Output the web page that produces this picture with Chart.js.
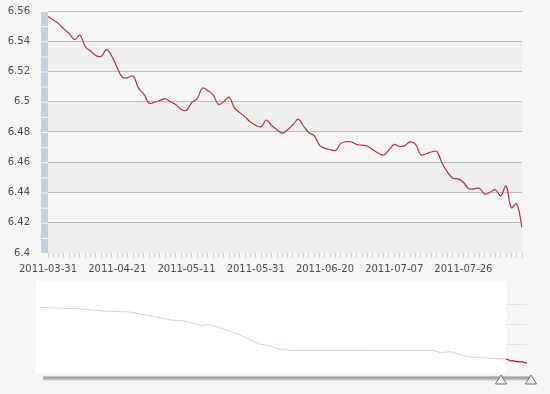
<!DOCTYPE html>
<html>
<head>
<meta charset="utf-8">
<script src="https://cdn.jsdelivr.net/npm/chart.js@4.4.1/dist/chart.umd.min.js"></script>
<style>
html, body { margin: 0; padding: 0; background: #f6f6f6; }
#wrap { position: relative; width: 550px; height: 394px; overflow: hidden; }
#mainChart { position: absolute; left: 0; top: 0; }
#navChart { position: absolute; left: 0; top: 275px; }
</style>
</head>
<body>
<div id="wrap">
<canvas id="mainChart" width="550" height="280"></canvas>
<canvas id="navChart" width="550" height="119"></canvas>
</div>
<script>
// daily rate, 2011-03-31 .. 2011-08-10
const mainDates = [
    "2011-03-31", "2011-04-01", "2011-04-06", "2011-04-07", "2011-04-08", "2011-04-11", "2011-04-12", "2011-04-13", "2011-04-14", "2011-04-15",
    "2011-04-18", "2011-04-19", "2011-04-20", "2011-04-21", "2011-04-22", "2011-04-25", "2011-04-26", "2011-04-27", "2011-04-28", "2011-04-29",
    "2011-05-03", "2011-05-04", "2011-05-05", "2011-05-06", "2011-05-09", "2011-05-10", "2011-05-11", "2011-05-12", "2011-05-13", "2011-05-16",
    "2011-05-17", "2011-05-18", "2011-05-19", "2011-05-20", "2011-05-23", "2011-05-24", "2011-05-25", "2011-05-26", "2011-05-27", "2011-05-31",
    "2011-06-01", "2011-06-02", "2011-06-03", "2011-06-07", "2011-06-08", "2011-06-09", "2011-06-10", "2011-06-13", "2011-06-14", "2011-06-15",
    "2011-06-16", "2011-06-17", "2011-06-20", "2011-06-21", "2011-06-22", "2011-06-23", "2011-06-24", "2011-06-27", "2011-06-28", "2011-06-29",
    "2011-06-30", "2011-07-01", "2011-07-04", "2011-07-05", "2011-07-06", "2011-07-07", "2011-07-08", "2011-07-11", "2011-07-12", "2011-07-13",
    "2011-07-14", "2011-07-15", "2011-07-18", "2011-07-19", "2011-07-20", "2011-07-21", "2011-07-22", "2011-07-25", "2011-07-26", "2011-07-27",
    "2011-07-28", "2011-07-29", "2011-08-01", "2011-08-02", "2011-08-03", "2011-08-04", "2011-08-05", "2011-08-08", "2011-08-09", "2011-08-10"
];
const mainValues = [
    6.5564, 6.554, 6.5515, 6.548, 6.545, 6.541, 6.544, 6.5365, 6.5335, 6.5305,
    6.530, 6.5345, 6.530, 6.5225, 6.516, 6.516, 6.517, 6.509, 6.505, 6.499,
    6.4997, 6.5008, 6.502, 6.500, 6.498, 6.495, 6.4943, 6.4995, 6.502, 6.509,
    6.5073, 6.5045, 6.4983, 6.500, 6.503, 6.496, 6.4928, 6.490, 6.4866, 6.4845,
    6.4834, 6.4878, 6.4843, 6.4815, 6.4792, 6.4815, 6.4848, 6.4885, 6.4838, 6.4795,
    6.4775, 6.4712, 6.4692, 6.4684, 6.4678, 6.4725, 6.4736, 6.4734, 6.4717, 6.4713,
    6.4706, 6.4682, 6.4661, 6.4647, 6.468, 6.4718, 6.4704, 6.471, 6.4735, 6.4718,
    6.465, 6.4656, 6.4668, 6.4671, 6.4594, 6.4535, 6.4495, 6.449, 6.4468, 6.4425,
    6.4424, 6.4428, 6.439, 6.4402, 6.4418, 6.4378, 6.4443, 6.430, 6.4325, 6.417
];
const yTicks = [6.4, 6.42, 6.44, 6.46, 6.48, 6.5, 6.52, 6.54, 6.56];
const labelEvery = 13;

// overview (scrollbar) history, position along the overview strip
const navPos = [0, 40, 60, 90, 110, 130, 143, 163, 168, 180, 193, 207,
    220, 227, 240, 257, 330, 393, 400, 412, 420, 430, 450, 466];
const navValues = [8.10, 8.06, 8.00, 7.96, 7.85, 7.73, 7.70, 7.55, 7.60, 7.49, 7.36, 7.18,
    7.00, 6.97, 6.84, 6.81, 6.81, 6.81, 6.75, 6.77, 6.68, 6.62, 6.58, 6.557];
const navGridValues = [7.0, 7.6, 8.2];
const selStart = 466;
const selEnd = 487;

Chart.defaults.font.family = "'DejaVu Sans', Verdana, sans-serif";
Chart.defaults.font.size = 10;
Chart.defaults.color = "#4d4d4d";

const bandsPlugin = {
    id: "bands",
    beforeDraw: function (chart) {
        const ctx = chart.ctx;
        const area = chart.chartArea;
        const y = chart.scales.y;
        ctx.save();
        for (let i = 0; i < y.ticks.length - 1; i++) {
            const y0 = y.getPixelForValue(y.ticks[i].value);
            const y1 = y.getPixelForValue(y.ticks[i + 1].value);
            ctx.fillStyle = i % 2 === 0 ? "#efefef" : "#f6f6f6";
            ctx.fillRect(area.left, y1, area.right - area.left, y0 - y1);
            // segmented blue bar on the left
            const mid = (y0 + y1) / 2;
            ctx.fillStyle = "#c3d2e1";
            ctx.fillRect(area.left - 7, y1 + 1, 7, mid - y1 - 1);
            ctx.fillRect(area.left - 7, mid + 1, 7, y0 - mid - 1);
        }
        ctx.restore();
    }
};

new Chart(document.getElementById("mainChart").getContext("2d"), {
    type: "line",
    data: {
        labels: mainDates,
        datasets: [{
            data: mainValues,
            borderColor: "#b3343f",
            borderWidth: 1.2,
            pointRadius: 0,
            tension: 0.4,
            fill: false
        }]
    },
    options: {
        responsive: false,
        animation: false,
        layout: { padding: { top: 11, right: 28, left: 0, bottom: 0 } },
        plugins: {
            legend: { display: false },
            tooltip: { enabled: false }
        },
        scales: {
            x: {
                grid: { drawOnChartArea: false, tickLength: 5, color: "#c6d3e0" },
                border: { display: false },
                ticks: {
                    autoSkip: false,
                    maxRotation: 0,
                    padding: 5,
                    callback: function (v, i) {
                        return i % labelEvery === 0 ? mainDates[i] : "";
                    }
                },
                afterFit: function (s) { s.height = 27; s.paddingLeft = 0; s.paddingRight = 0; }
            },
            y: {
                min: yTicks[0],
                max: yTicks[yTicks.length - 1],
                afterBuildTicks: function (s) {
                    s.ticks = yTicks.map(function (v) { return { value: v }; });
                },
                ticks: {
                    padding: 18,
                    callback: function (v) { return String(Number(v.toFixed(2))); }
                },
                grid: {
                    drawTicks: false,
                    color: function (c) { return c.index === 0 ? "rgba(0,0,0,0)" : "#bdbdbd"; }
                },
                border: { display: false },
                afterFit: function (s) { s.width = 48; s.paddingTop = 0; s.paddingBottom = 0; }
            }
        }
    },
    plugins: [bandsPlugin]
});

const navHistory = navPos.map(function (x, i) { return { x: x, y: navValues[i] }; });
const navSelected = mainValues.map(function (v, i) {
    return { x: selStart + i * (selEnd - selStart) / (mainValues.length - 1), y: v };
});

function drawHandle(ctx, cx, top) {
    ctx.beginPath();
    ctx.moveTo(cx, top);
    ctx.lineTo(cx + 5.5, top + 9);
    ctx.lineTo(cx - 5.5, top + 9);
    ctx.closePath();
    ctx.fillStyle = "#f7f7f7";
    ctx.fill();
    ctx.strokeStyle = "#6f6f6f";
    ctx.lineWidth = 1;
    ctx.stroke();
}

const navPlugin = {
    id: "nav",
    beforeDatasetsDraw: function (chart) {
        const ctx = chart.ctx;
        const area = chart.chartArea;
        const sx = chart.scales.x.getPixelForValue(selStart);
        ctx.save();
        ctx.fillStyle = "#ffffff";
        ctx.fillRect(area.left - 4, area.top, sx - area.left + 4, area.bottom - area.top);
        ctx.restore();
    },
    afterDraw: function (chart) {
        const ctx = chart.ctx;
        const area = chart.chartArea;
        const sx = chart.scales.x.getPixelForValue(selStart);
        const ex = chart.scales.x.getPixelForValue(selEnd);
        ctx.save();
        const g = ctx.createLinearGradient(0, area.bottom + 3, 0, area.bottom + 7.5);
        g.addColorStop(0, "#8c8c8c");
        g.addColorStop(1, "#cfcfcf");
        ctx.fillStyle = g;
        ctx.fillRect(area.left + 3, area.bottom + 3.5, ex + 4 - area.left - 3, 4);
        drawHandle(ctx, sx - 5, area.bottom + 2);
        drawHandle(ctx, ex + 4, area.bottom + 2);
        ctx.restore();
    }
};

new Chart(document.getElementById("navChart").getContext("2d"), {
    type: "line",
    data: {
        datasets: [{
            data: navHistory,
            borderColor: "#f1c3c8",
            borderWidth: 1,
            pointRadius: 0,
            tension: 0.1
        }, {
            data: navSelected,
            borderColor: "#9e2532",
            borderWidth: 1.2,
            pointRadius: 0,
            tension: 0.1
        }]
    },
    options: {
        responsive: false,
        animation: false,
        layout: { padding: { left: 40, right: 23, top: 6, bottom: 21 } },
        plugins: {
            legend: { display: false },
            tooltip: { enabled: false }
        },
        scales: {
            x: { type: "linear", display: false, min: navPos[0], max: selEnd },
            y: {
                min: 6.135,
                max: 8.895,
                ticks: { display: false },
                grid: { drawTicks: false, color: "#e3e3e3" },
                border: { display: false },
                afterBuildTicks: function (s) {
                    s.ticks = navGridValues.map(function (v) { return { value: v }; });
                },
                afterFit: function (s) { s.width = 0; }
            }
        }
    },
    plugins: [navPlugin]
});
</script>
</body>
</html>
